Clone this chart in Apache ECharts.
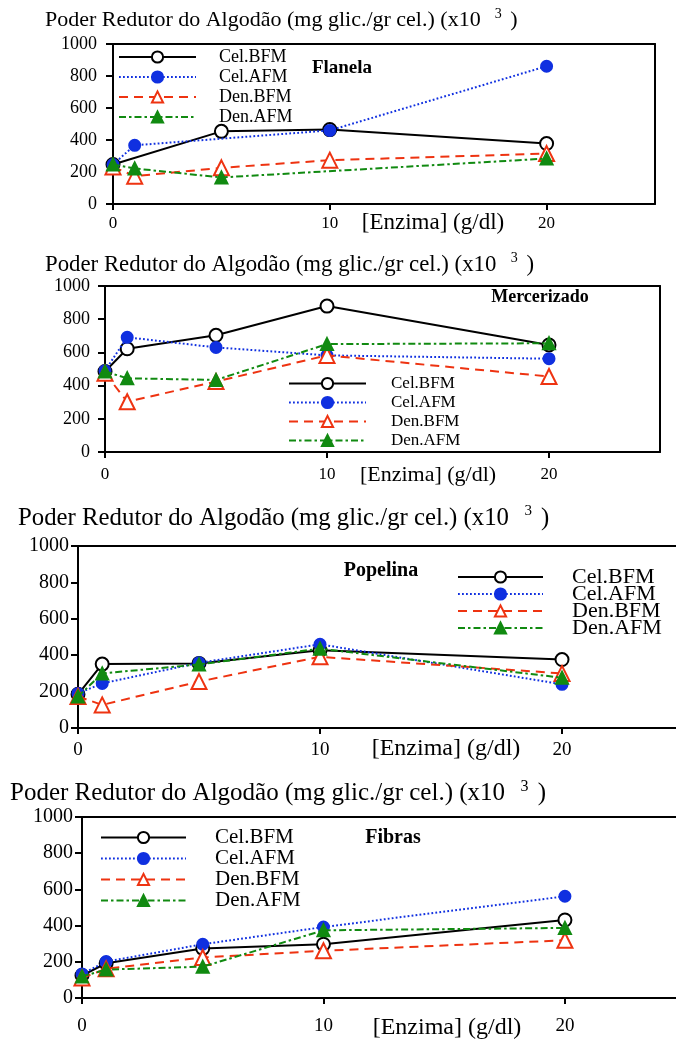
<!DOCTYPE html>
<html>
<head>
<meta charset="utf-8">
<script src="https://cdn.jsdelivr.net/npm/echarts@6/dist/echarts.min.js"></script>
<style>html,body{margin:0;padding:0;background:#fff}#c{width:676px;height:1039px}</style>
</head>
<body>
<div id="c"></div>
<script>
// ---- data ----
const xValues = [0, 1, 5, 10, 20];
const seriesNames = ['Cel.BFM', 'Cel.AFM', 'Den.BFM', 'Den.AFM'];
const panelNames = ['Flanela', 'Mercerizado', 'Popelina', 'Fibras'];
const xTickLabels = [0, 10, 20];
const yTickLabels = [0, 200, 400, 600, 800, 1000];

const flanelaCelBFM = [247, null, 454, 465, 378];
const flanelaCelAFM = [247, 367, null, 460, 861];
const flanelaDenBFM = [232, 174, 226, 274, 315];
const flanelaDenAFM = [247, 222, 166, null, 284];

const mercerizadoCelBFM = [485, 622, 703, 879, 645];
const mercerizadoCelAFM = [490, 691, 630, 582, 562];
const mercerizadoDenBFM = [475, 303, 424, 582, 455];
const mercerizadoDenAFM = [485, 444, 434, 650, 655];

const popelinaCelBFM = [185, 351, 355, 427, 376];
const popelinaCelAFM = [190, 245, 358, 460, 240];
const popelinaDenBFM = [173, 127, 255, 391, 300];
const popelinaDenAFM = [173, 300, 349, 436, 276];

const fibrasCelBFM = [124, 192, 274, 297, 431];
const fibrasCelAFM = [133, 201, 297, 392, 562];
const fibrasDenBFM = [111, 161, 224, 261, 319];
const fibrasDenAFM = [119, 157, 173, 374, 387];

const panelData = [
  [flanelaCelBFM, flanelaCelAFM, flanelaDenBFM, flanelaDenAFM],
  [mercerizadoCelBFM, mercerizadoCelAFM, mercerizadoDenBFM, mercerizadoDenAFM],
  [popelinaCelBFM, popelinaCelAFM, popelinaDenBFM, popelinaDenAFM],
  [fibrasCelBFM, fibrasCelAFM, fibrasDenBFM, fibrasDenAFM]
];

// ---- layout / style ----
const FONT = '"Liberation Serif", "Times New Roman", serif';
const panels = [
  {grid: {left: 113, top: 44, width: 542, height: 160}, xMax: 25, rightBorder: true,
   xLabel: {size: 17, margin: 11}, yLabel: {size: 18, margin: 16},
   title: {x: 45, cy: 20, size: 22}, enzima: {x: 433, cy: 223, size: 23},
   annot: {x: 342, cy: 68, size: 19},
   legend: {left: 118, top: 48, w: 77, gap: 2, font: 18, pad: 18}},
  {grid: {left: 105, top: 286, width: 555, height: 166}, xMax: 25, rightBorder: true,
   xLabel: {size: 17, margin: 14}, yLabel: {size: 18, margin: 15},
   title: {x: 45, cy: 265, size: 22.8}, enzima: {x: 428, cy: 475, size: 22},
   annot: {x: 540, cy: 297, size: 18},
   legend: {left: 288, top: 375, w: 77, gap: 2, font: 17, pad: 20}},
  {grid: {left: 78, top: 546, width: 598, height: 182}, xMax: 24.71, rightBorder: false,
   xLabel: {size: 19, margin: 13}, yLabel: {size: 20, margin: 9},
   title: {x: 18, cy: 518, size: 24.8}, enzima: {x: 446, cy: 749, size: 24},
   annot: {x: 381, cy: 571, size: 20},
   legend: {left: 457, top: 566, w: 85, gap: -5, font: 22, pad: 24}},
  {grid: {left: 82, top: 817, width: 594, height: 181}, xMax: 24.6, rightBorder: false,
   xLabel: {size: 19, margin: 19}, yLabel: {size: 20, margin: 9},
   title: {x: 10, cy: 793, size: 25}, enzima: {x: 447, cy: 1028, size: 24},
   annot: {x: 393, cy: 838, size: 20},
   legend: {left: 100, top: 827, w: 85, gap: 0, font: 21, pad: 24}}
];
const styles = [
  {color: '#000000', line: 'solid', symbol: 'circle', fill: '#ffffff', size: 13, width: 2},
  {color: '#1030e0', line: [1.8, 2.2], symbol: 'circle', fill: '#1030e0', size: 11, width: 2},
  {color: '#ee3311', line: [9, 6], symbol: 'triangle', fill: '#ffffff', size: 15, width: 2},
  {color: '#118a11', line: [7, 3, 2.5, 3], symbol: 'triangle', fill: '#118a11', size: 12, width: 2}
];

const option = {
  animation: false,
  backgroundColor: '#ffffff',
  grid: [], xAxis: [], yAxis: [], series: [], legend: [], title: []
};

for (let p = 0; p < 4; p++) {
  const P = panels[p];
  option.grid.push(Object.assign({show: false}, P.grid));
  // bottom axis (index 2p) and top border (index 2p+1)
  option.xAxis.push({
    type: 'value', gridIndex: p, min: 0, max: P.xMax, interval: 10, position: 'bottom',
    axisLine: {onZero: false, lineStyle: {color: '#000', width: 2}},
    axisTick: {show: true, length: 6, lineStyle: {color: '#000', width: 2}, customValues: xTickLabels},
    axisLabel: {color: '#000', fontFamily: FONT, fontSize: P.xLabel.size, margin: P.xLabel.margin, customValues: xTickLabels},
    splitLine: {show: false}
  });
  option.xAxis.push({
    type: 'value', gridIndex: p, min: 0, max: P.xMax, position: 'top',
    axisLine: {show: true, onZero: false, lineStyle: {color: '#000', width: 2}},
    axisTick: {show: false}, axisLabel: {show: false}, splitLine: {show: false}
  });
  option.yAxis.push({
    type: 'value', gridIndex: p, min: 0, max: 1000, interval: 200, position: 'left',
    axisLine: {show: true, onZero: false, lineStyle: {color: '#000', width: 2}},
    axisTick: {show: true, length: 7, lineStyle: {color: '#000', width: 2}},
    axisLabel: {color: '#000', fontFamily: FONT, fontSize: P.yLabel.size, margin: P.yLabel.margin, formatter: v => String(v)},
    splitLine: {show: false}
  });
  option.yAxis.push({
    type: 'value', gridIndex: p, min: 0, max: 1000, position: 'right', show: P.rightBorder,
    axisLine: {show: true, onZero: false, lineStyle: {color: '#000', width: 2}},
    axisTick: {show: false}, axisLabel: {show: false}, splitLine: {show: false}
  });
  for (let s = 0; s < 4; s++) {
    const st = styles[s];
    const vals = panelData[p][s];
    const data = [];
    xValues.forEach((x, i) => { if (vals[i] !== null) data.push([x, vals[i]]); });
    option.series.push({
      type: 'line', name: seriesNames[s], xAxisIndex: 2 * p, yAxisIndex: 2 * p,
      data: data, symbol: st.symbol, symbolSize: st.size, showSymbol: true,
      lineStyle: {color: st.color, type: st.line, width: st.width},
      itemStyle: {color: st.fill, borderColor: st.color, borderWidth: 2},
      z: 2 + s
    });
  }
  const lg = P.legend;
  option.legend.push({
    orient: 'vertical', left: lg.left, top: lg.top, padding: 0,
    itemWidth: lg.w, itemHeight: 14, itemGap: lg.gap,
    data: seriesNames,
    selectedMode: false,
    textStyle: {fontFamily: FONT, fontSize: lg.font, color: '#000', padding: [0, 0, 0, lg.pad]}
  });
  const T = P.title;
  option.title.push({
    left: T.x, top: T.cy - (T.size + 4) / 2, padding: 0,
    text: 'Poder Redutor do Algodão (mg glic./gr cel.) (x10  {s|3} )',
    textStyle: {
      fontFamily: FONT, fontSize: T.size, fontWeight: 'normal', color: '#000', lineHeight: T.size + 4,
      rich: {s: {fontFamily: FONT, fontSize: Math.round(T.size * 0.62), verticalAlign: 'top', lineHeight: 14, padding: [0, 3, 8, 3]}}
    }
  });
  const E = P.enzima;
  option.title.push({
    left: E.x, top: E.cy - E.size / 2 - 1, padding: 0, textAlign: 'center',
    text: '[Enzima] (g/dl)',
    textStyle: {fontFamily: FONT, fontSize: E.size, fontWeight: 'normal', color: '#000', lineHeight: E.size + 2}
  });
  const A = P.annot;
  option.title.push({
    left: A.x, top: A.cy - A.size / 2 - 1, padding: 0, textAlign: 'center',
    text: panelNames[p],
    textStyle: {fontFamily: FONT, fontSize: A.size, fontWeight: 'bold', color: '#000', lineHeight: A.size + 2}
  });
}

const chart = echarts.init(document.getElementById('c'), null, {renderer: 'canvas'});
chart.setOption(option);
</script>
</body>
</html>
